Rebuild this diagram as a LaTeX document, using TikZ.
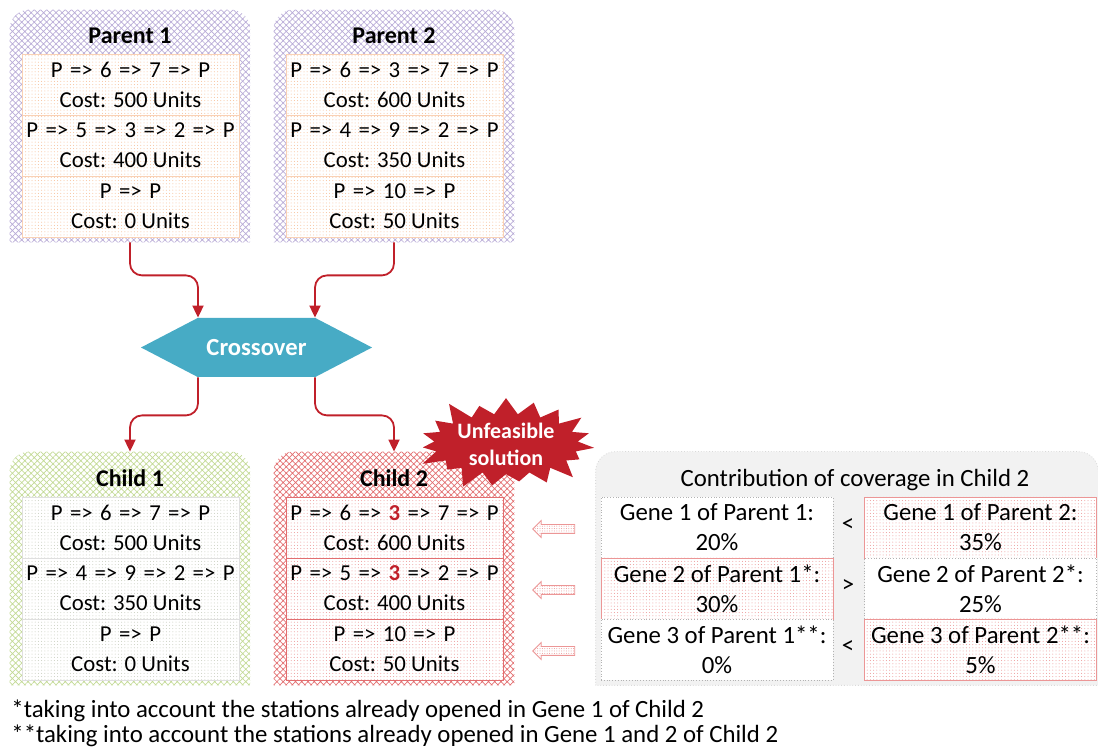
\documentclass[tikz,border=0pt]{standalone}
\usepackage{fontspec}
\setmainfont{Carlito}
\usepackage{tikz}
\usetikzlibrary{
  calc,%
  % hatch and dot fills
  patterns.meta,%
  shapes.symbols,%
  shapes.arrows,%
  arrows.meta,
  positioning
}
\definecolor{flowred}{RGB}{192,32,42}
\definecolor{crossblue}{RGB}{71,171,197}
\definecolor{parentline}{RGB}{185,172,215}
\definecolor{childoneline}{RGB}{195,218,150}
\definecolor{childtwoline}{RGB}{226,110,112}
\definecolor{genedot}{RGB}{247,190,150}
\definecolor{pinkdot}{RGB}{236,150,150}
\definecolor{greendot}{RGB}{200,205,190}
\definecolor{panelgray}{RGB}{242,242,242}

\tikzset{>={Triangle[width=5.5pt,length=6pt]}}
\tikzset{font=\fontsize{11.4}{15}\selectfont}
\tikzset{
  outerbox/.style={minimum width=120pt, inner sep=0pt},
  boxtitle/.style={font=\fontsize{12}{15}\selectfont\bfseries},
  generow/.style={minimum width=108.5pt, minimum height=30.5pt, inner sep=0pt,
    align=center, preaction={fill=white}, line width=0.4pt},
  orangerow/.style={generow, pattern={Dots[distance=1.6pt,radius=0.25pt]},
    pattern color=genedot, draw=genedot!70},
  greenrow/.style={generow, pattern={Dots[distance=1.6pt,radius=0.25pt]},
    pattern color=greendot, draw=gray!25},
  pinkrow/.style={generow, pattern={Dots[distance=1.6pt,radius=0.25pt]},
    pattern color=pinkdot, draw=childtwoline},
  hatchfill/.style={pattern={Hatch[distance=2.2pt,angle=45,line width=0.35pt]},
    pattern color=#1},
  flow/.style={->, flowred, line width=0.9pt, rounded corners=6pt},
  cellplain/.style={minimum width=116pt, minimum height=30.5pt, inner sep=0pt,
    align=center, fill=white, draw=gray!60, densely dotted,
    font=\fontsize{12.4}{15}\selectfont},
  cellpink/.style={minimum width=116pt, minimum height=30.5pt, inner sep=0pt,
    align=center, preaction={fill=white}, pattern={Dots[distance=1.6pt,radius=0.25pt]},
    pattern color=pinkdot, draw=pinkdot, font=\fontsize{12.4}{15}\selectfont},
  backarrow/.style={single arrow, shape border rotate=180, minimum height=21pt,
    minimum width=8pt, inner sep=2pt, single arrow head extend=2pt,
    draw=pinkdot, line width=0.4pt, preaction={fill=white},
    pattern={Dots[distance=1.2pt,radius=0.25pt]}, pattern color=pinkdot}
}
% box with rounded top corners only
\newcommand{\topbox}[2]{%
  \path[#2] (#1.south west) [rounded corners=10pt] |- (#1.north east)
    [sharp corners] -- (#1.south east) -- cycle;}
\newcommand{\redthree}{\textbf{\textcolor{flowred}{3}}}
% route lines are set a bit wider
\newcommand{\route}[1]{{\spaceskip=3.7pt\relax #1}}

\begin{document}
\begin{tikzpicture}[x=0.5pt, y=-0.5pt]
  \useasboundingbox (0,0) rectangle (1098,747);
  % parents
  \node[outerbox, minimum height=116pt] (p1) at (130,126) {};
  \node[outerbox, minimum height=116pt] (p2) at (394,126) {};
  \topbox{p1}{hatchfill=parentline}
  \topbox{p2}{hatchfill=parentline}
  \node[boxtitle] (p1t) at (130,36) {Parent 1};
  \node[boxtitle] (p2t) at (394,36) {Parent 2};
  \node[orangerow] (p1a) at (130.5,84.5) {\route{P => 6 => 7 => P}\\Cost: 500 Units};
  \node[orangerow] (p1b) at (130.5,145.5) {\route{P => 5 => 3 => 2 => P}\\Cost: 400 Units};
  \node[orangerow] (p1c) at (130.5,206.5) {\route{P => P}\\Cost: 0 Units};
  \node[orangerow] (p2a) at (394.5,84.5) {\route{P => 6 => 3 => 7 => P}\\Cost: 600 Units};
  \node[orangerow] (p2b) at (394.5,145.5) {\route{P => 4 => 9 => 2 => P}\\Cost: 350 Units};
  \node[orangerow] (p2c) at (394.5,206.5) {\route{P => 10 => P}\\Cost: 50 Units};

  % crossover
  \node[signal, signal to=west and east, signal pointer angle=55, fill=crossblue,
    text=white, font=\fontsize{12.3}{15}\selectfont\bfseries, minimum width=115.5pt,
    minimum height=29.5pt, inner sep=0pt] (cross) at (256.5,347.5) {Crossover};

  % children
  \node[outerbox, minimum height=116.5pt] (c1) at (130,568.5) {};
  \node[outerbox, minimum height=116.5pt] (c2) at (394,568.5) {};
  \topbox{c1}{hatchfill=childoneline}
  \topbox{c2}{hatchfill=childtwoline}
  \node[boxtitle] (c1t) at (130,478) {Child 1};
  \node[boxtitle] (c2t) at (394,478) {Child 2};
  \node[greenrow] (c1a) at (130.5,527.5) {\route{P => 6 => 7 => P}\\Cost: 500 Units};
  \node[greenrow] (c1b) at (130.5,588.5) {\route{P => 4 => 9 => 2 => P}\\Cost: 350 Units};
  \node[greenrow] (c1c) at (130.5,649.5) {\route{P => P}\\Cost: 0 Units};
  \node[pinkrow] (c2a) at (394.5,527.5) {\route{P => 6 => \redthree{} => 7 => P}\\Cost: 600 Units};
  \node[pinkrow] (c2b) at (394.5,588.5) {\route{P => 5 => \redthree{} => 2 => P}\\Cost: 400 Units};
  \node[pinkrow] (c2c) at (394.5,649.5) {\route{P => 10 => P}\\Cost: 50 Units};

  \node[starburst, starburst points=19, starburst point height=11pt, fill=flowred,
    text=white, align=center, font=\fontsize{11}{13.5}\selectfont\bfseries,
    minimum width=94pt, minimum height=41pt, inner sep=0pt]
    (unfeas) at (506,444) {Unfeasible\\solution};

  % flow arrows
  \draw[flow] (p1.south) -- ++(0,33) -| ($(cross.north)+(-58.5,0)$);
  \draw[flow] (p2.south) -- ++(0,33) -| ($(cross.north)+(58.5,0)$);
  \draw[flow] ($(cross.south)+(-58.5,0)$) -- ++(0,38) -| (c1.north);
  \draw[flow] ($(cross.south)+(58.5,0)$) -- ++(0,38) -| (c2.north);

  % contribution panel
  \node[outerbox, minimum width=251pt, minimum height=116.5pt] (cov) at (847,568.5) {};
  \topbox{cov}{fill=panelgray, draw=gray!30, densely dotted}
  \node[font=\fontsize{12.4}{15}\selectfont] (covt) at (855,480)
    {Contribution of coverage in Child 2};
  \node[cellplain] (g1a) at (717,527.5) {Gene 1 of Parent 1:\\20\%};
  \node[cellpink] (g1b) at (717,588.5) {Gene 2 of Parent 1*:\\30\%};
  \node[cellplain] (g1c) at (717,649.5) {Gene 3 of Parent 1**:\\0\%};
  \node[cellpink] (g2a) at (980.5,527.5) {Gene 1 of Parent 2:\\35\%};
  \node[cellplain] (g2b) at (980.5,588.5) {Gene 2 of Parent 2*:\\25\%};
  \node[cellpink] (g2c) at (980.5,649.5) {Gene 3 of Parent 2**:\\5\%};
  \node[font=\fontsize{12.4}{15}\selectfont] (lt1) at (848,525) {<};
  \node[font=\fontsize{12.4}{15}\selectfont] (gt2) at (848,586) {>};
  \node[font=\fontsize{12.4}{15}\selectfont] (lt3) at (848,647) {<};

  \node[backarrow] (b1) at (556,529) {};
  \node[backarrow] (b2) at (556,590) {};
  \node[backarrow] (b3) at (556,651) {};

  % footnotes
  \node[anchor=north west, align=left, inner sep=0pt,
    font=\fontsize{12.4}{12.5}\selectfont] (notes) at (11,699)
    {*taking into account the stations already opened in Gene 1 of Child 2\\
     **taking into account the stations already opened in Gene 1 and 2 of Child 2};
\end{tikzpicture}
\end{document}
